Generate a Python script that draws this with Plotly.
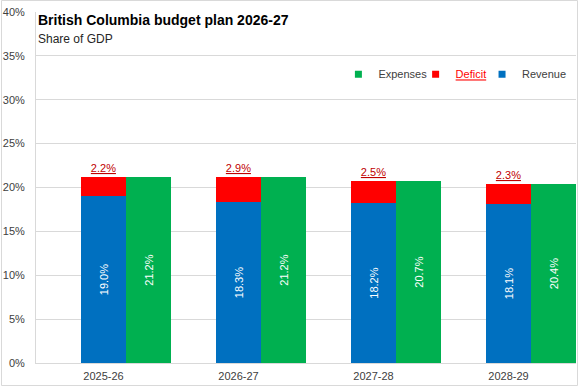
import plotly.graph_objects as go

years = ["2025-26", "2026-27", "2027-28", "2028-29"]
revenue = [19.0, 18.3, 18.2, 18.1]
deficit = [2.2, 2.9, 2.5, 2.3]
expenses = [21.2, 21.2, 20.7, 20.4]
y_ticks = [0, 5, 10, 15, 20, 25, 30, 35, 40]

BLUE = "#0070C0"
RED = "#FF0000"
GREEN = "#00B050"
DRED = "#C00000"
FONT = "Liberation Sans"

fig = go.Figure()
fig.add_trace(go.Bar(
    x=years, y=revenue, width=1/3, offset=-1/6, marker=dict(color=BLUE, line=dict(width=0)),
    text=[f"{v:.1f}%" for v in revenue], textposition="inside", insidetextanchor="middle",
    textangle=-90, textfont=dict(color="white", size=11, family=FONT), showlegend=False,
))
fig.add_trace(go.Bar(
    x=years, y=deficit, base=revenue, width=1/3, offset=-1/6, marker=dict(color=RED, line=dict(width=0)),
    text=[f"<u>{v:.1f}%</u>" for v in deficit], textposition="outside", textangle=0,
    textfont=dict(color=DRED, size=11, family=FONT), showlegend=False, cliponaxis=False,
))
fig.add_trace(go.Bar(
    x=years, y=expenses, width=1/3, offset=1/6, marker=dict(color=GREEN, line=dict(width=0)),
    text=[f"{v:.1f}%" for v in expenses], textposition="inside", insidetextanchor="middle",
    textangle=-90, textfont=dict(color="white", size=11, family=FONT), showlegend=False,
))

# legend entries
legend_items = [("Expenses", GREEN, "legend", 0.56, "#404040"),
                ("<u>Deficit</u>", RED, "legend2", 0.703, RED),
                ("Revenue", BLUE, "legend3", 0.826, "#404040")]
for name, col, lg, _, _ in legend_items:
    fig.add_trace(go.Scatter(x=[None], y=[None], mode="markers", name=name, legend=lg,
                             marker=dict(symbol="square", size=7, color=col)))

legend_cfg = {}
for name, col, lg, xpos, tcol in legend_items:
    legend_cfg[lg] = dict(x=xpos, y=0.823, xanchor="left", yanchor="middle", orientation="h",
                          bgcolor="rgba(0,0,0,0)", itemwidth=30, borderwidth=0,
                          font=dict(family=FONT, size=11, color=tcol))

fig.update_layout(
    width=580, height=387,
    margin=dict(l=36, r=4, t=12, b=24, autoexpand=False),
    paper_bgcolor="white", plot_bgcolor="white",
    barmode="overlay", bargap=0,
    showlegend=True,
    font=dict(family=FONT, size=11, color="#404040"),
    xaxis=dict(type="category", range=[-0.5, 3.5], showline=True, linecolor="#D9D9D9", linewidth=1,
               ticks="", showgrid=False, automargin=False, ticklabelstandoff=3,
               tickfont=dict(size=11, color="#404040")),
    yaxis=dict(range=[0, 40], tickvals=y_ticks, ticktext=[f"{t}%" for t in y_ticks],
               showgrid=True, gridcolor="#D9D9D9", gridwidth=1, zeroline=False, automargin=False,
               showline=True, linecolor="#D9D9D9", ticks="", ticklabelstandoff=8,
               tickfont=dict(size=11, color="#404040")),
    annotations=[
        dict(text="<b>British Columbia budget plan 2026-27</b>", xref="paper", yref="paper",
             x=0.0, y=(363 - 20) / 351, xanchor="left", yanchor="middle", showarrow=False,
             font=dict(family=FONT, size=14, color="black")),
        dict(text="Share of GDP", xref="paper", yref="paper",
             x=0.0, y=(363 - 39) / 351, xanchor="left", yanchor="middle", showarrow=False,
             font=dict(family=FONT, size=12, color="#262626")),
    ],
    shapes=[dict(type="rect", xref="paper", yref="paper",
                 x0=(1.5 - 36) / 540, x1=(577.5 - 36) / 540,
                 y0=(363 - 385.5) / 351, y1=(363 - 0.5) / 351,
                 line=dict(color="#D9D9D9", width=1), layer="below")],
    **legend_cfg,
)

fig.write_html("out.html", config={"displayModeBar": False},
               post_script="document.body.style.margin='0';document.body.style.overflow='hidden';")
